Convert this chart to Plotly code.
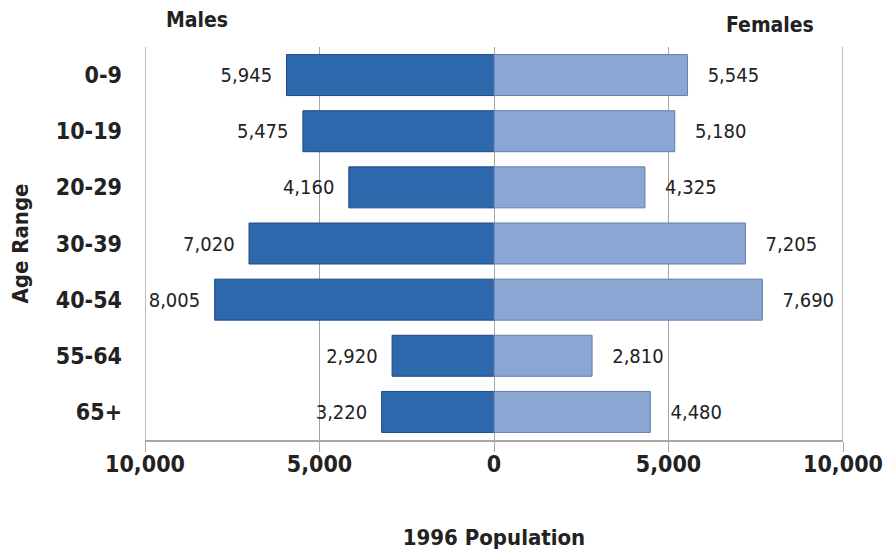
import plotly.graph_objects as go

age_groups = ["0-9", "10-19", "20-29", "30-39", "40-54", "55-64", "65+"]
males = [5945, 5475, 4160, 7020, 8005, 2920, 3220]
females = [5545, 5180, 4325, 7205, 7690, 2810, 4480]
tick_vals = [-10000, -5000, 0, 5000, 10000]
tick_text = ["10,000", "5,000", "0", "5,000", "10,000"]

FONT = "DejaVu Sans Condensed, sans-serif"
NB = "\u00a0"

fig = go.Figure()
fig.add_trace(go.Bar(
    y=age_groups, x=[-v for v in males], orientation="h", name="Males",
    marker=dict(color="#2e69ad", line=dict(color="#1d4a80", width=1)),
    text=[f"{v:,}{NB*2}" for v in males], textposition="outside",
    textfont=dict(size=20, color="#222222", family=FONT), cliponaxis=False,
))
fig.add_trace(go.Bar(
    y=age_groups, x=females, orientation="h", name="Females",
    marker=dict(color="#8ba6d2", line=dict(color="#5f7fb0", width=1)),
    text=[f"{NB*3}{v:,}" for v in females], textposition="outside",
    textfont=dict(size=20, color="#222222", family=FONT), cliponaxis=False,
))

fig.update_layout(
    width=891, height=556,
    margin=dict(l=137, r=56, t=39, b=124),
    barmode="relative", bargap=0.27,
    showlegend=False,
    plot_bgcolor="white", paper_bgcolor="white",
    font=dict(family=FONT, color="#222222"),
    xaxis=dict(
        range=[-10000, 10000], tickvals=tick_vals, ticktext=tick_text,
        automargin=False,
        showgrid=True, gridcolor="#a6a6a6", gridwidth=1,
        zeroline=True, zerolinecolor="#a6a6a6", zerolinewidth=1,
        showline=True, linecolor="#a6a6a6", linewidth=1.5,
        ticks="outside", ticklen=10, tickcolor="#a6a6a6",
        ticklabelstandoff=-7,
        tickfont=dict(size=23, family=FONT, weight="bold", color="#222222"),
        title=dict(text="1996 Population", font=dict(size=22, family=FONT, weight="bold", color="#222222"), standoff=53),
    ),
    yaxis=dict(
        autorange="reversed", showgrid=False, zeroline=False, showline=False,
        automargin=False,
        ticks="", ticklabelstandoff=22,
        tickfont=dict(size=23, family=FONT, weight="bold", color="#222222"),
        title=dict(text="Age Range", font=dict(size=22, family=FONT, weight="bold", color="#222222"), standoff=22),
    ),
    annotations=[
        dict(text="Males", x=0.075, y=1.0, xref="paper", yref="paper", yshift=27,
             xanchor="center", yanchor="middle",
             showarrow=False, font=dict(size=21, family=FONT, weight="bold", color="#222222")),
        dict(text="Females", x=0.896, y=1.0, xref="paper", yref="paper", yshift=22,
             xanchor="center", yanchor="middle",
             showarrow=False, font=dict(size=21, family=FONT, weight="bold", color="#222222")),
    ],
    shapes=[
        dict(type="line", xref="x", yref="paper", x0=-10000, x1=-10000, y0=0, y1=1,
             line=dict(color="#a6a6a6", width=1.5)),
        dict(type="line", xref="x", yref="paper", x0=10000, x1=10000, y0=0, y1=1,
             line=dict(color="#a6a6a6", width=1.5)),
    ],
)

fig.write_html("out.html")
